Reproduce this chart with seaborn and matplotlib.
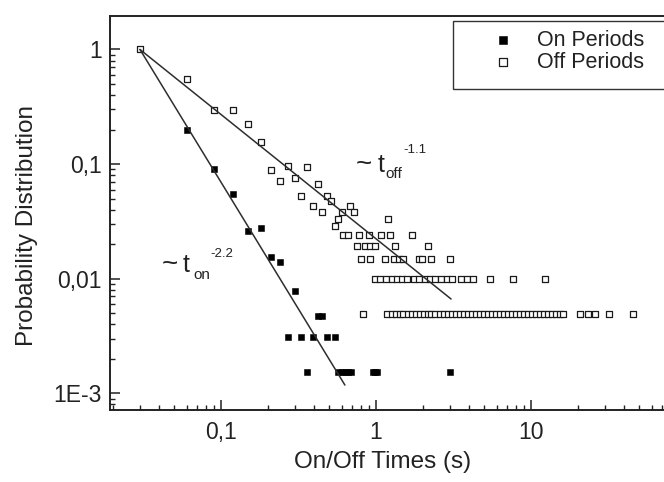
import matplotlib
matplotlib.use("Agg")
import matplotlib.pyplot as plt
import seaborn as sns
import pandas as pd
from matplotlib.ticker import FixedLocator, FixedFormatter, LogLocator, NullFormatter
from matplotlib.patches import Rectangle

# ---------------- data ----------------
# On periods (filled squares)
on_x = [0.03, 0.06, 0.09, 0.12, 0.15, 0.18, 0.21, 0.24, 0.30,
        0.42, 0.45,
        0.27, 0.33, 0.39, 0.48, 0.54,
        0.36, 0.57, 0.60, 0.63, 0.66, 0.69, 0.96, 0.99, 1.02, 3.0]
on_y = [1.0, 0.20, 0.090, 0.0545, 0.0261, 0.0275, 0.0155, 0.0140, 0.0078,
        0.0047, 0.0047,
        0.0031, 0.0031, 0.0031, 0.0031, 0.0031,
        0.00154, 0.00154, 0.00154, 0.00154, 0.00154, 0.00154, 0.00154, 0.00154, 0.00154, 0.00154]

# Off periods (open squares) - scattered upper part
off_x_upper = [0.03, 0.06, 0.09, 0.12, 0.15, 0.18, 0.21, 0.27, 0.36, 0.24, 0.30, 0.42,
               0.33, 0.48, 0.51, 0.39, 0.675, 0.45, 0.60, 0.72, 0.57, 1.2, 0.54]
off_y_upper = [1.0, 0.549, 0.296, 0.296, 0.2226, 0.156, 0.0888, 0.0953, 0.0945, 0.0712, 0.0756, 0.0664,
               0.0527, 0.0527, 0.0481, 0.0431, 0.0431, 0.0384, 0.0384, 0.0384, 0.0332, 0.0332, 0.0288]
# Off periods - quantised rows (probability level, times)
off_row_p = [0.0239, 0.0194, 0.01477, 0.00988, 0.00489]
off_row_t24 = [0.61, 0.66, 0.78, 0.90, 1.08, 1.23, 1.71]
off_row_t19 = [0.75, 0.85, 0.92, 0.99, 1.32, 2.16]
off_row_t15 = [0.80, 0.92, 1.15, 1.31, 1.40, 1.50, 1.88, 1.98, 2.25, 3.0]
off_row_t10 = [0.98, 1.06, 1.16, 1.27, 1.37, 1.47, 1.59, 1.76, 1.89, 2.07, 2.23, 2.40,
               2.63, 2.87, 3.09, 3.54, 3.87, 4.22, 5.44, 7.65, 12.3]
off_row_t05 = [0.83, 1.18, 1.26, 1.34, 1.42, 1.5, 1.6, 1.7, 1.8, 1.91, 2.03, 2.15, 2.28,
               2.42, 2.57, 2.73, 2.9, 3.08, 3.27, 3.47, 3.68, 3.91, 4.15, 4.41, 4.68,
               4.97, 5.28, 5.6, 5.95, 6.32, 6.7, 7.1, 7.55, 8.0, 8.5, 9.0, 9.6, 10.2,
               10.8, 11.5, 12.2, 12.9, 13.7, 14.6, 15.4, 16.2, 20.7, 23.3, 25.9, 32.0, 45.3]

# power-law fit lines (end points)
on_fit_x = [0.03, 0.63]
on_fit_y = [1.0, 0.00118]
off_fit_x = [0.03, 3.05]
off_fit_y = [1.0, 0.00665]

x_ticks = [0.1, 1, 10]
x_tick_labels = ["0,1", "1", "10"]
y_ticks = [0.001, 0.01, 0.1, 1]
y_tick_labels = ["1E-3", "0,01", "0,1", "1"]

# ---------------- build tables ----------------
on_df = pd.DataFrame({"t": on_x, "p": on_y})
rows = [off_row_t24, off_row_t19, off_row_t15, off_row_t10, off_row_t05]
off_t = list(off_x_upper)
off_p = list(off_y_upper)
for p, ts in zip(off_row_p, rows):
    off_t += ts
    off_p += [p] * len(ts)
off_df = pd.DataFrame({"t": off_t, "p": off_p})

# ---------------- style ----------------
sns.set_style("ticks")
plt.rcParams["font.family"] = ["Liberation Sans", "DejaVu Sans"]

W, H = 664, 482
fig = plt.figure(figsize=(W / 100, H / 100), dpi=100)
ax = fig.add_axes([110 / W, 72 / H, 576 / W, 394.3 / H])
ax.set_xscale("log")
ax.set_yscale("log")
ax.set_xlim(0.01922, 100)
ax.set_ylim(7.15e-4, 1.972)

line_col = "#2e2e2e"
sns.lineplot(x=on_fit_x, y=on_fit_y, color=line_col, linewidth=1.1, ax=ax, legend=False, zorder=3)
sns.lineplot(x=off_fit_x, y=off_fit_y, color=line_col, linewidth=1.1, ax=ax, legend=False, zorder=3)

sns.scatterplot(data=on_df, x="t", y="p", marker="s", s=22, color="black",
                edgecolor="black", linewidth=0.4, ax=ax, label="On Periods", zorder=2)
sns.scatterplot(data=off_df, x="t", y="p", marker="s", s=22, color="white",
                edgecolor="#1a1a1a", linewidth=0.9, ax=ax, label="Off Periods", zorder=2)

# ticks
ax.xaxis.set_major_locator(FixedLocator(x_ticks))
ax.xaxis.set_major_formatter(FixedFormatter(x_tick_labels))
ax.yaxis.set_major_locator(FixedLocator(y_ticks))
ax.yaxis.set_major_formatter(FixedFormatter(y_tick_labels))
ax.xaxis.set_minor_locator(LogLocator(base=10, subs=range(2, 10), numticks=30))
ax.yaxis.set_minor_locator(LogLocator(base=10, subs=range(2, 10), numticks=30))
ax.xaxis.set_minor_formatter(NullFormatter())
ax.yaxis.set_minor_formatter(NullFormatter())
ax.tick_params(which="major", direction="in", length=7, width=1.1, labelsize=16.5,
               colors="#222222", top=False, right=False)
ax.tick_params(axis="y", which="major", pad=6)
ax.tick_params(axis="x", which="major", pad=8)
ax.tick_params(which="minor", direction="in", length=3.6, width=1.0, colors="#222222",
               top=False, right=False)
for s in ax.spines.values():
    s.set_linewidth(1.4)
    s.set_color("#222222")

ax.set_xlabel("On/Off Times (s)", fontsize=17.5, color="#222222")
ax.xaxis.set_label_coords(0.474, -0.105)
ax.set_ylabel("Probability Distribution", fontsize=17.5, color="#222222")
ax.yaxis.set_label_coords(-0.125, 0.469)


def fp(x, y):
    return x / W, 1 - y / H


# annotations
tc = "#222222"
fig.text(*fp(162, 271.7), "~", fontsize=20, va="baseline", ha="left", color=tc)
fig.text(*fp(183, 271.7), "t", fontsize=18, va="baseline", ha="left", color=tc)
fig.text(*fp(193, 279.3), "on", fontsize=11, va="baseline", ha="left", color=tc)
fig.text(*fp(210, 256.7), "-2.2", fontsize=9.5, va="baseline", ha="left", color=tc)
fig.text(*fp(355.7, 171.7), "~", fontsize=20, va="baseline", ha="left", color=tc)
fig.text(*fp(377.5, 171.7), "t", fontsize=18, va="baseline", ha="left", color=tc)
fig.text(*fp(385, 178.3), "off", fontsize=11, va="baseline", ha="left", color=tc)
fig.text(*fp(403, 153.3), "-1.1", fontsize=9.5, va="baseline", ha="left", color=tc)

# legend
leg = ax.legend(loc="upper left", bbox_to_anchor=fp(453, 21), bbox_transform=fig.transFigure,
                fontsize=15.5, frameon=False, borderpad=0.4, handlelength=3.86,
                handletextpad=-0.37, labelspacing=0.06, borderaxespad=0, markerscale=1.1)
for t in leg.get_texts():
    t.set_color(tc)
x0, y0 = fp(453, 89)
fig.patches.append(Rectangle((x0, y0), 260 / W, 68 / H, transform=fig.transFigure,
                             fill=False, edgecolor="#333333", linewidth=1.0, zorder=5))

fig.savefig("out.png", dpi=100)
